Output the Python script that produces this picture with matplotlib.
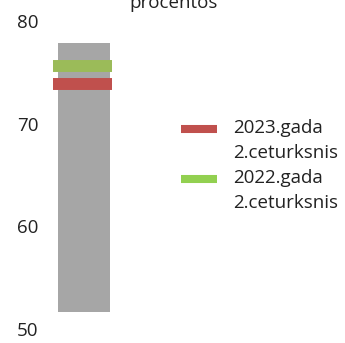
import matplotlib
matplotlib.use("Agg")
import matplotlib.pyplot as plt

plt.rcParams['font.family'] = ['Open Sans', 'DejaVu Sans']

# data
range_low = 51.65
range_high = 77.9
val_2023 = 73.9
val_2022 = 75.6
labels = ['2023.gada\n2.ceturksnis', '2022.gada\n2.ceturksnis']
colors_mark = ['#C0504D', '#9BBB59']
colors_leg = ['#C0504D', '#92D050']

fig = plt.figure(figsize=(3.45, 3.43), dpi=100)
ax = fig.add_axes([40 / 345, 14 / 343, 88 / 345, 308 / 343])

ax.bar(0, range_high - range_low, bottom=range_low, width=1.18, color='#A6A6A6')
ax.hlines([val_2023, val_2022], -0.7, 0.64, colors=colors_mark, linewidth=8.6)

ax.set_xlim(-1, 1)
ax.set_ylim(50, 80)
ax.set_yticks([50, 60, 70, 80])
ax.tick_params(axis='y', length=0, pad=1, labelsize=13.5, labelcolor='#222222')
ax.set_xticks([])
for s in ax.spines.values():
    s.set_visible(False)

# legend drawn by hand (two-line labels, wide spacing)
y0 = 1 - 128 / 343
step = 25 / 343
for i, (lab, c) in enumerate(zip(labels, colors_leg)):
    yc = y0 - i * 2 * step
    fig.add_artist(plt.Line2D([181 / 345, 217 / 345], [yc - 1 / 343, yc - 1 / 343],
                              color=c, linewidth=5.8, solid_capstyle='butt',
                              transform=fig.transFigure))
    for j, line in enumerate(lab.split('\n')):
        fig.text(233 / 345, yc - j * step, line, ha='left', va='center',
                 fontsize=13.5, color='#222222')

fig.text(0.504, 1 - 8 / 343, 'procentos', ha='center', va='baseline', fontsize=13.5, color='#222222')

fig.savefig('out.png', dpi=100)
